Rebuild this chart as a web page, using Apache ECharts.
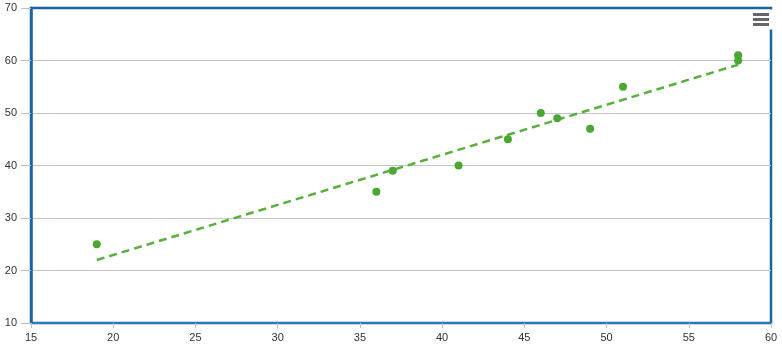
<!DOCTYPE html>
<html>
<head>
<meta charset="utf-8">
<script src="https://cdn.jsdelivr.net/npm/echarts@6/dist/echarts.min.js"></script>
<style>html,body{margin:0;padding:0;background:#fff}#c{width:782px;height:355px}</style>
</head>
<body>
<div id="c"></div>
<script>
var xValues = [19, 36, 37, 41, 44, 46, 47, 49, 51, 58, 58];
var yValues = [25, 35, 39, 40, 45, 50, 49, 47, 55, 60, 61];
var trendX = [19, 58];
var trendY = [22, 59.2];
var xTicks = [15, 20, 25, 30, 35, 40, 45, 50, 55, 60];
var yTicks = [10, 20, 30, 40, 50, 60, 70];

var points = xValues.map(function (x, i) { return [x, yValues[i]]; });
var trend = trendX.map(function (x, i) { return [x, trendY[i]]; });

var chart = echarts.init(document.getElementById('c'), null, {renderer: 'canvas'});
chart.setOption({
  animation: false,
  backgroundColor: '#fff',
  grid: {left: 31, right: 11, top: 8, bottom: 32, show: true, borderColor: '#1c659c', borderWidth: 2.5, backgroundColor: 'transparent'},
  xAxis: {
    type: 'value', min: xTicks[0], max: xTicks[xTicks.length - 1], interval: 5,
    axisLine: {show: true, lineStyle: {color: '#2a78b8', width: 2}},
    axisTick: {show: true, length: 5, lineStyle: {color: '#c0c0c0'}},
    axisLabel: {color: '#333', fontSize: 11, fontFamily: 'Liberation Sans, Arial', margin: 9},
    splitLine: {show: false}
  },
  yAxis: {
    type: 'value', min: yTicks[0], max: yTicks[yTicks.length - 1], interval: 10,
    axisLine: {show: true, lineStyle: {color: '#1c659c', width: 2.5}},
    axisTick: {show: true, length: 10, lineStyle: {color: '#c0c0c0'}},
    axisLabel: {color: '#333', fontSize: 11, fontFamily: 'Liberation Sans, Arial', margin: 14},
    splitLine: {show: true, showMinLine: false, showMaxLine: false, lineStyle: {color: '#c4c4c4', width: 1}}
  },
  series: [
    {
      type: 'line', data: trend, showSymbol: false, symbol: 'none',
      lineStyle: {color: '#58b03c', width: 2.5, type: [8, 5]}, z: 2
    },
    {
      type: 'scatter', data: points, symbolSize: 8,
      itemStyle: {color: '#4aa832', opacity: 1}, z: 3
    }
  ],
  graphic: [
    {type: 'rect', shape: {x: 768, y: 9.5, width: 6, height: 20}, style: {fill: '#fff'}, z: 100},
    {type: 'rect', shape: {x: 753, y: 13, width: 16, height: 3}, style: {fill: '#666'}, z: 101},
    {type: 'rect', shape: {x: 753, y: 18, width: 16, height: 3}, style: {fill: '#666'}, z: 101},
    {type: 'rect', shape: {x: 753, y: 23, width: 16, height: 3}, style: {fill: '#666'}, z: 101}
  ]
});
</script>
</body>
</html>
